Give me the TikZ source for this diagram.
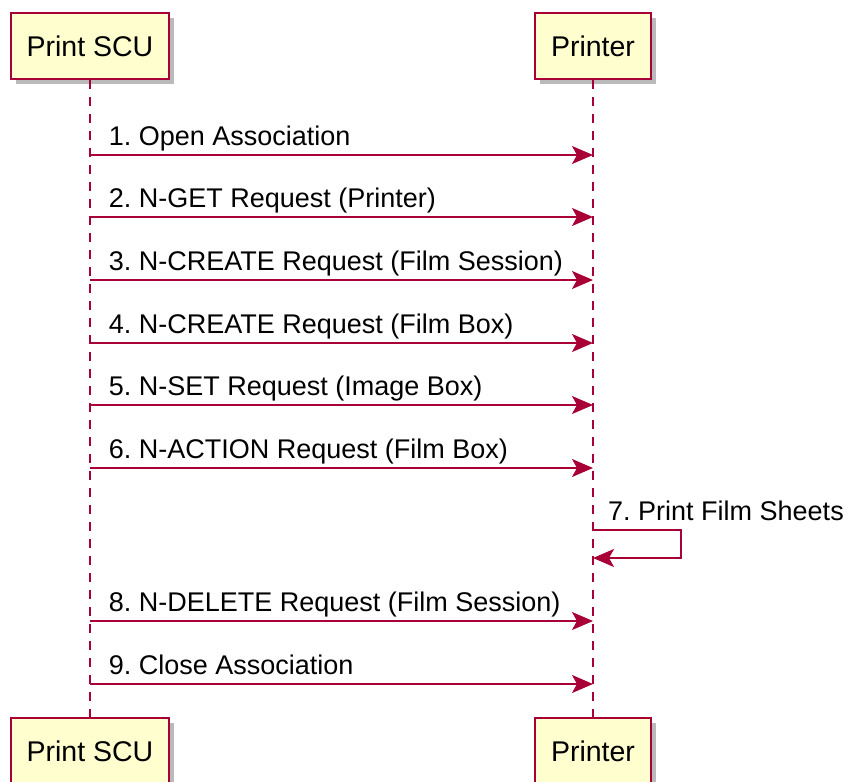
\documentclass[tikz,border=0pt]{standalone}
\usepackage{fontspec}
\setmainfont{Liberation Sans}
\usetikzlibrary{positioning,arrows.meta,shadows}

\definecolor{umlred}{HTML}{A80036}
\definecolor{umlfill}{HTML}{FEFECE}
\frenchspacing

\begin{document}
\begin{tikzpicture}[
    x=1pt, y=-1pt,
    actor/.style={draw=umlred, fill=umlfill, line width=1.8pt,
                  minimum height=66pt, inner xsep=16pt,
                  font=\fontsize{28.5}{34}\selectfont,
                  drop shadow={shadow xshift=5pt, shadow yshift=-5pt,
                               fill=black!45, opacity=0.6}},
    life/.style={umlred, line width=1.6pt, dash pattern=on 9pt off 8pt},
    msg/.style={-{Stealth[length=21pt, width=18pt, inset=5pt]},
                umlred, line width=1.6pt},
    lbl/.style={anchor=base west, inner sep=0pt, text=black,
                font=\fontsize{27}{32}\selectfont}
]
\useasboundingbox (0,0) rectangle (849,782);

% Participants, head and foot
\node[actor] (scu) at (90,46) {Print SCU};
\node[actor] (prn) at (593,46) {Printer};
\node[actor] (scub) at (90,751) {Print SCU};
\node[actor] (prnb) at (593,751) {Printer};

% Lifelines
\draw[life] (scu) -- (scub);
\draw[life] (prn) -- (prnb);

% Requests from the SCU
\foreach \yy/\txt in {155/1. Open Association,
                      217/2. N-GET Request (Printer),
                      280/3. N-CREATE Request (Film Session),
                      343/4. N-CREATE Request (Film Box),
                      405/5. N-SET Request (Image Box),
                      468/6. N-ACTION Request (Film Box),
                      621/8. N-DELETE Request (Film Session),
                      684/9. Close Association}
    \draw[msg] (scu.south |- 0,\yy) -- (prn.south |- 0,\yy)
        node[lbl, pos=0, xshift=18pt, yshift=10pt] {\txt};

% Printer talks to itself
\draw[msg] (prn.south |- 0,530) -- ++(88,0) -- ++(0,28) -- (prn.south |- 0,558);
\node[lbl] (print) at (608,520) {7. Print Film Sheets};

\end{tikzpicture}
\end{document}
